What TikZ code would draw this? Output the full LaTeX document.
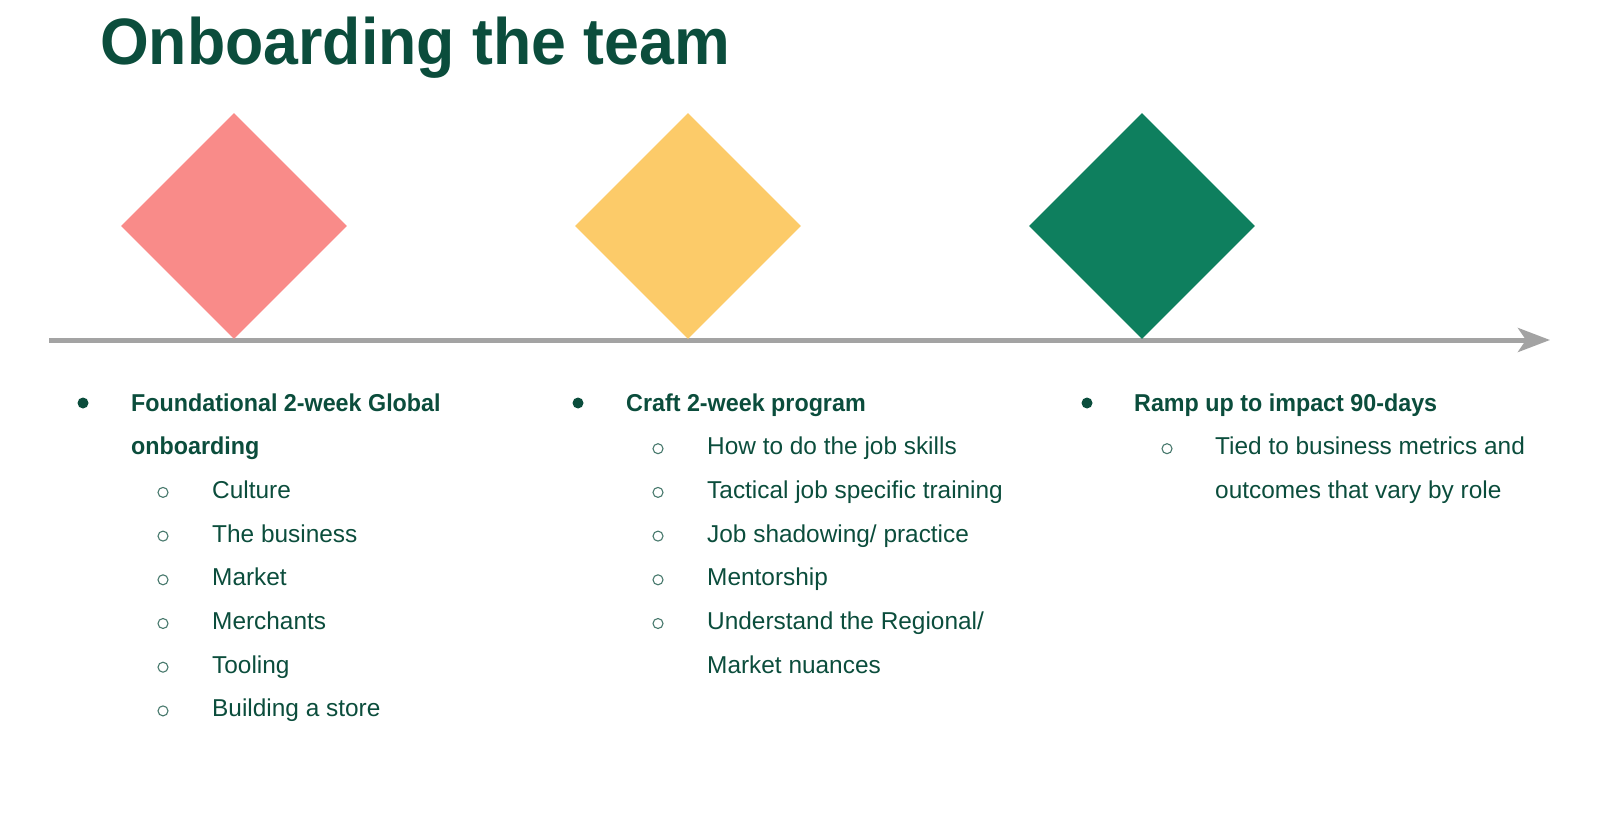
\documentclass[tikz,border=0pt]{standalone}
\usepackage{fontspec}
\setmainfont{Liberation Sans}
\newfontfamily\headfont[FakeStretch=0.955]{Liberation Sans}
\usetikzlibrary{arrows.meta,positioning,shapes.geometric}

\definecolor{ink}{HTML}{0B4D3C}
\definecolor{rosegem}{HTML}{F98B89}
\definecolor{sungem}{HTML}{FCCB69}
\definecolor{leafgem}{HTML}{0E7F5E}
\definecolor{railgrey}{HTML}{A3A3A3}

\tikzset{
  gem/.style={diamond, minimum width=226pt, minimum height=226pt, inner sep=0pt},
  head/.style={anchor=base west, inner sep=0pt, text=ink, font=\headfont\fontsize{24.4}{24.4}\selectfont\bfseries},
  item/.style={anchor=base west, inner sep=0pt, text=ink, font=\fontsize{24.4}{24.4}\selectfont},
  dot/.style={circle, fill=ink, minimum size=11pt, inner sep=0pt},
  ring/.style={circle, draw=ink!75, line width=1.1pt, minimum size=10pt, inner sep=0pt}
}

\begin{document}
\begin{tikzpicture}[x=1pt,y=-1pt,node distance=454pt]
  \useasboundingbox (0,0) rectangle (1600,818);

  \node[anchor=base west, inner sep=0pt, text=ink, font=\headfont\fontsize{65.6}{65.6}\selectfont\bfseries] (title) at (100,65) {Onboarding the team};

  % timeline
  \coordinate (rail0) at (49,340);
  \coordinate (rail1) at (1550,340);
  \draw[railgrey, line width=5pt, -{Stealth[length=32pt,width=24pt,inset=8pt]}] (rail0) -- (rail1);

  \node[gem, fill=rosegem] (d1) at (234,226) {};
  \node[gem, fill=sungem]  (d2) [right of=d1] {};
  \node[gem, fill=leafgem] (d3) [right of=d2] {};

  % first column
  \node[dot] (b1) at (83,403) {};
  \node[head] (h1a) at (131,411) {Foundational 2-week Global};
  \node[head] (h1b) at (131,454.7) {onboarding};
  \foreach \txt [count=\i] in {Culture,The business,Market,Merchants,Tooling,Building a store}{
    \node[ring] (r1\i) at (163,{411+43.7*(\i+1)-6}) {};
    \node[item] (t1\i) at (212,{411+43.7*(\i+1)}) {\txt};
  }

  % second column
  \node[dot] (b2) at (578,403) {};
  \node[head] (h2) at (626,411) {Craft 2-week program};
  \foreach \txt [count=\i] in {How to do the job skills,Tactical job specific training,Job shadowing/ practice,Mentorship,Understand the Regional/}{
    \node[ring] (r2\i) at (658,{411+43.7*\i-6}) {};
    \node[item] (t2\i) at (707,{411+43.7*\i}) {\txt};
  }
  \node[item] (t26) at (707,{411+43.7*6}) {Market nuances};

  % third column
  \node[dot] (b3) at (1087,403) {};
  \node[head] (h3) at (1134,411) {Ramp up to impact 90-days};
  \node[ring] (r31) at (1167,{411+43.7-6}) {};
  \node[item] (t31) at (1215,{411+43.7}) {Tied to business metrics and};
  \node[item] (t32) at (1215,{411+43.7*2}) {outcomes that vary by role};
\end{tikzpicture}
\end{document}
